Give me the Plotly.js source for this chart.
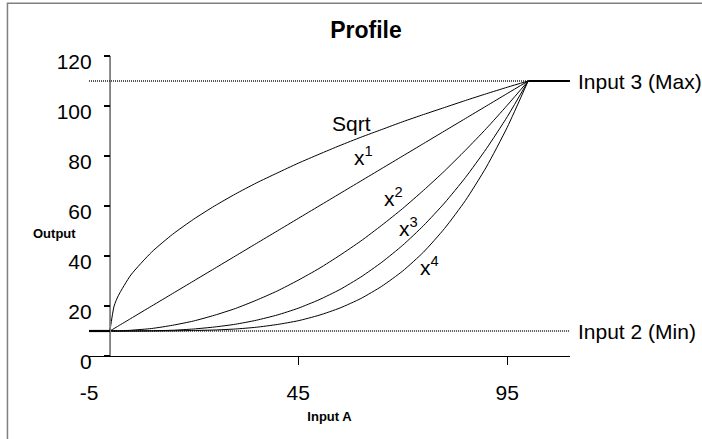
<!DOCTYPE html>
<html>
<head>
<meta charset="utf-8">
<script src="https://cdn.plot.ly/plotly-3.0.1.min.js"></script>
<style>html,body{margin:0;padding:0;background:#fff;}#chart{width:702px;height:439px;}</style>
</head>
<body>
<div id="chart"></div>
<script>
// Input A values at which the curves were read
const inputA = [0, 1, 2, 5, 10, 15, 20, 25, 30, 35, 40, 45, 50, 55, 60, 65, 70, 75, 80, 85, 90, 95, 100];
// Output values
const sqrtOut = [10, 20, 24.1, 32.4, 41.6, 48.7, 54.7, 60, 64.8, 69.2, 73.2, 77.1, 80.7, 84.2, 87.5, 90.6, 93.7, 96.6, 99.4, 102.2, 104.9, 107.5, 110];
const x1Out   = [10, 11, 12, 15, 20, 25, 30, 35, 40, 45, 50, 55, 60, 65, 70, 75, 80, 85, 90, 95, 100, 105, 110];
const x2Out   = [10, 10, 10, 10.3, 11, 12.3, 14, 16.3, 19, 22.3, 26, 30.3, 35, 40.3, 46, 52.3, 59, 66.3, 74, 82.3, 91, 100.3, 110];
const x3Out   = [10, 10, 10, 10, 10.1, 10.3, 10.8, 11.6, 12.7, 14.3, 16.4, 19.1, 22.5, 26.6, 31.6, 37.5, 44.3, 52.2, 61.2, 71.4, 82.9, 95.7, 110];
const x4Out   = [10, 10, 10, 10, 10, 10.05, 10.2, 10.4, 10.8, 11.5, 12.6, 14.1, 16.3, 19.2, 23, 27.9, 34, 41.6, 51, 62.2, 75.6, 91.5, 110];

// Input levels
const levelNames = ['Input 2 (Min)', 'Input 3 (Max)'];
const levelValues = [10, 110];
const levelX = [-5, 0, 100, 110];   // axis start, curve start, curve end, axis end

// Curve labels
const curveLabels = ['Sqrt', 'x<sup>1</sup>', 'x<sup>2</sup>', 'x<sup>3</sup>', 'x<sup>4</sup>'];
const curveLabelX = [57.7, 60.6, 67.8, 71.3, 76.4];
const curveLabelY = [93, 80, 63.6, 51.7, 36.1];

const xTicks = [-5, 45, 95];
const yTicks = [0, 20, 40, 60, 80, 100, 120];

const FONT = 'Liberation Sans, Arial, sans-serif';
const curveLine = {color: '#000', width: 1, shape: 'spline', smoothing: 0.6};
const dotLine = {color: '#222', width: 1.5, dash: '1px,1px'};
const solidLine = {color: '#000', width: 2.2};

const traces = [
  // dotted parts of level lines
  {x: [levelX[1], levelX[3]], y: [levelValues[0], levelValues[0]], mode: 'lines', line: dotLine, hoverinfo: 'skip'},
  {x: [levelX[0], levelX[2]], y: [levelValues[1], levelValues[1]], mode: 'lines', line: dotLine, hoverinfo: 'skip'},
  // curves
  {x: inputA, y: sqrtOut, mode: 'lines', line: curveLine, name: 'Sqrt'},
  {x: inputA, y: x1Out, mode: 'lines', line: curveLine, name: 'x1'},
  {x: inputA, y: x2Out, mode: 'lines', line: curveLine, name: 'x2'},
  {x: inputA, y: x3Out, mode: 'lines', line: curveLine, name: 'x3'},
  {x: inputA, y: x4Out, mode: 'lines', line: curveLine, name: 'x4'},
  // solid parts of level lines
  {x: [levelX[0], levelX[1]], y: [levelValues[0], levelValues[0]], mode: 'lines', line: solidLine, hoverinfo: 'skip'},
  {x: [levelX[2], levelX[3]], y: [levelValues[1], levelValues[1]], mode: 'lines', line: solidLine, hoverinfo: 'skip'}
];

const annotations = [];
curveLabels.forEach((t, i) => {
  annotations.push({x: curveLabelX[i], y: curveLabelY[i], xref: 'x', yref: 'y', text: t, showarrow: false,
    xanchor: 'center', yanchor: 'middle', font: {family: FONT, size: 21, color: '#000'}});
});
levelNames.forEach((t, i) => {
  annotations.push({x: levelX[3], y: levelValues[i], xref: 'x', yref: 'y', text: t, showarrow: false,
    xanchor: 'left', yanchor: 'middle', xshift: 6, font: {family: FONT, size: 21, color: '#000'}});
});
annotations.push({x: -0.0716, y: 49, xref: 'paper', yref: 'y', text: '<b>Output</b>', showarrow: false,
  xanchor: 'center', yanchor: 'middle', font: {family: FONT, size: 13, color: '#000'}});

const layout = {
  width: 702, height: 439,
  margin: {l: 89.4, r: 132.4, t: 55.7, b: 83.3},
  paper_bgcolor: '#fff', plot_bgcolor: '#fff',
  showlegend: false,
  font: {family: FONT, color: '#000'},
  title: {text: '<b>Profile</b>', x: 366/702, xref: 'container', xanchor: 'center',
    y: 1 - 30/439, yref: 'container', yanchor: 'middle', font: {family: FONT, size: 23, color: '#000'}},
  xaxis: {
    range: [-5, 110], domain: [0, 1],
    tickvals: xTicks, ticktext: xTicks.map(String),
    ticks: 'outside', ticklen: 8, tickwidth: 1, tickcolor: '#000',
    showline: true, linecolor: '#000', linewidth: 1.3,
    showgrid: false, zeroline: false,
    ticklabelstandoff: 9,
    tickfont: {family: FONT, size: 21, color: '#000'},
    title: {text: '<b>Input A</b>', font: {family: FONT, size: 13, color: '#000'}, standoff: 9}
  },
  yaxis: {
    range: [0, 120], anchor: 'free', position: 5/115,
    tickvals: yTicks, ticktext: yTicks.map(String),
    ticks: 'outside', ticklen: 6, tickwidth: 1.2, tickcolor: '#000',
    showline: true, linecolor: '#808080', linewidth: 1.5,
    showgrid: false, zeroline: false,
    ticklabelstandoff: 8, ticklabelshift: 6,
    tickfont: {family: FONT, size: 21, color: '#000'}
  },
  shapes: [
    {type: 'rect', xref: 'paper', yref: 'paper', x0: (8 - 89.4)/480.2, x1: 1.5, y0: -0.5, y1: (355.7 - 3)/300,
      line: {color: '#808080', width: 1.5}, fillcolor: 'rgba(0,0,0,0)', layer: 'below'},
    // y axis line crossing at Input A = 0
    {type: 'line', xref: 'x', yref: 'y', x0: 0, x1: 0, y0: 0, y1: 120,
      line: {color: '#808080', width: 1.5}, layer: 'below'}
  ],
  annotations: annotations
};

Plotly.newPlot('chart', traces, layout, {staticPlot: true, displayModeBar: false});
</script>
</body>
</html>
